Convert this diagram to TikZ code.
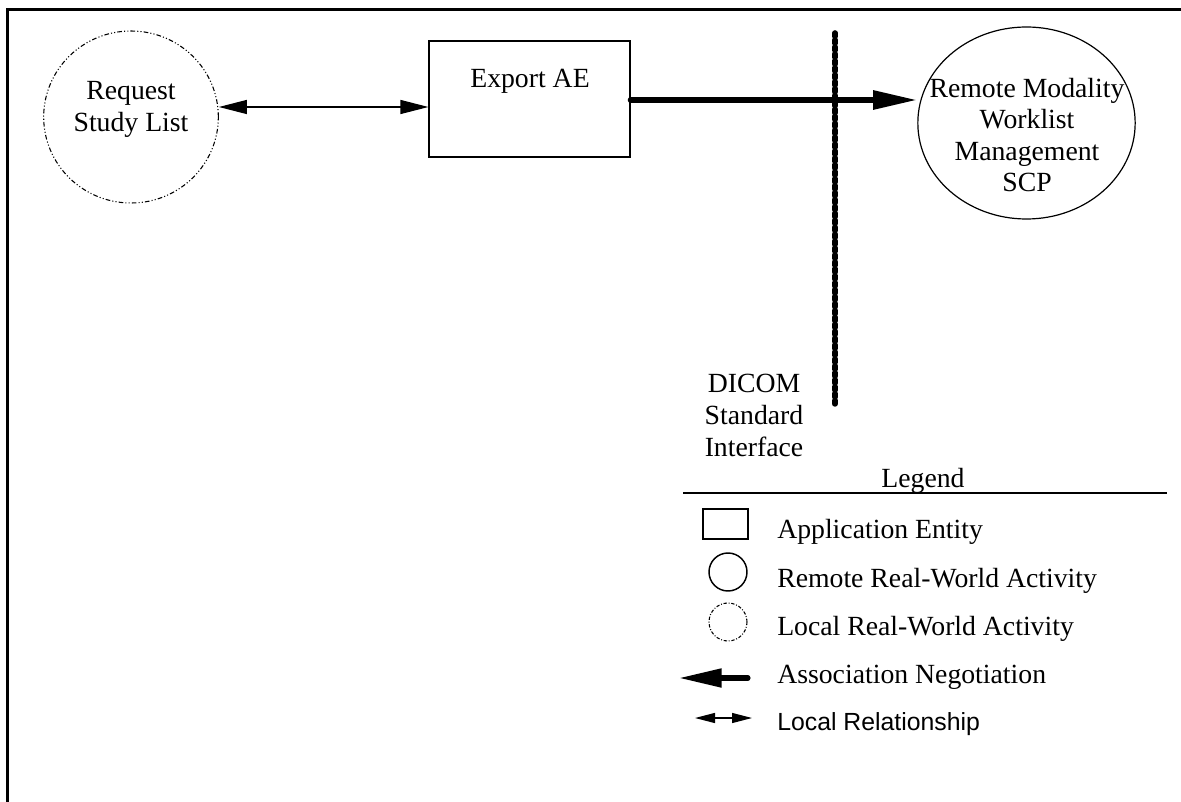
\documentclass[tikz,border=0pt]{standalone}
\usepackage{fontspec}
\setmainfont{Liberation Serif}
\newfontfamily\arialfont{Liberation Sans}
\usetikzlibrary{arrows.meta,shapes.geometric,calc}
\tikzset{
  txt/.style={font=\fontsize{20.8}{24}\selectfont, align=center, inner sep=0pt},
  legtxt/.style={font=\fontsize{20.8}{24}\selectfont, anchor=base west, inner sep=0pt},
  localact/.style={ellipse, draw, line width=0.8pt, inner sep=0pt,
     dash pattern=on 3.5pt off 1.6pt on 0.8pt off 1.6pt on 0.8pt off 1.6pt},
  remoteact/.style={ellipse, draw, line width=0.9pt, inner sep=0pt},
  aebox/.style={rectangle, draw, line width=0.9pt, inner sep=0pt},
  localrel/.style={line width=0.9pt},
  assoc/.style={line width=4.3pt, line cap=round},
  dicomline/.style={line width=4.2pt, line cap=round, dash pattern=on 2.6pt off 2.6pt},
}
\begin{document}
\begin{tikzpicture}[x=0.75pt,y=-0.75pt]
\useasboundingbox (0,0) rectangle (1181,802);
% frame
\draw[line width=2.4pt] (7.5,802) -- (7.5,9.5) -- (1181,9.5);

% request study list
\node[localact, minimum width=131pt, minimum height=129pt] (rsl) at (131,117) {};
\node[txt] (rsltxt) at (131,109) {Request\\Study List};

% export AE
\node[aebox, minimum width=150.75pt, minimum height=87pt] (ae) at (529.5,99) {};
\node[txt] (aetxt) at (530,81) {Export AE};

% remote ellipse
\node[remoteact, minimum width=163pt, minimum height=144pt] (rm) at (1026.5,123) {};
\node[txt, font=\fontsize{20.8}{23.6}\selectfont] (rmtxt) at (1027,135) {Remote Modality\\Worklist\\Management\\SCP};

% local relationship arrow
\coordinate (aeport) at ($(ae.west)+(0,8)$);
\draw[localrel, {Triangle[length=21pt,width=10.5pt]}-{Triangle[length=21pt,width=10.5pt]}]
  (rsl.east |- aeport) -- (aeport);

% DICOM interface line
\coordinate (dtop) at (835,33);
\coordinate (dbot) at (835,407);
\draw[dicomline] (dtop) -- (dbot);

% association arrow
\draw[assoc, -{Triangle[length=33pt,width=13.5pt]}] (ae.east |- 0,100) -- (rm.west |- 0,100);

% DICOM label
\node[txt] (dicom) at (754,415) {DICOM\\Standard\\Interface};

% legend
\node[font=\fontsize{20.8}{24}\selectfont, anchor=base, inner sep=0pt] (legend) at (923,487) {Legend};
\coordinate (l1) at (683,493);
\coordinate (l2) at (1167,493);
\draw[line width=2.2pt] (l1) -- (l2);

\node[aebox, minimum width=33.75pt, minimum height=22.5pt, line width=1.1pt] (lgbox) at (725.5,524) {};
\node[legtxt] (lgboxt) at (777,538) {Application Entity};

\node[remoteact, minimum width=28.5pt, minimum height=28.5pt, line width=1.1pt] (lgrem) at (728,572) {};
\node[legtxt] (lgremt) at (777,587) {Remote Real-World Activity};

\node[localact, minimum width=28.5pt, minimum height=28.5pt, line width=0.8pt,
  dash pattern=on 2.5pt off 1.3pt on 0.7pt off 1.3pt] (lgloc) at (728,622) {};
\node[legtxt] (lglocc) at (777,635) {Local Real-World Activity};

\coordinate (as1) at (748,678);
\coordinate (as2) at (679,678);
\draw[line width=3.8pt, line cap=round, -{Triangle[length=32pt,width=13.5pt]}] (as1) -- (as2);
\node[legtxt] (lgas) at (777,683) {Association Negotiation};

\coordinate (lr1) at (695,718);
\coordinate (lr2) at (752,718);
\draw[line width=0.9pt, {Triangle[length=15pt,width=7.5pt]}-{Triangle[length=15pt,width=7.5pt]}] (lr1) -- (lr2);
\node[legtxt, font=\arialfont\fontsize{18.6}{22}\selectfont] (lglr) at (777,730) {Local Relationship};
\end{tikzpicture}
\end{document}
